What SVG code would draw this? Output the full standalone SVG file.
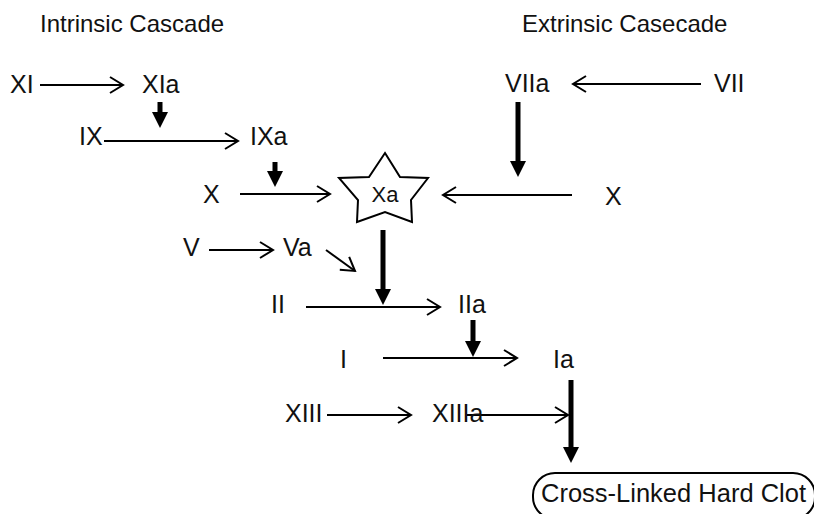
<svg xmlns="http://www.w3.org/2000/svg" width="814" height="514" viewBox="0 0 814 514">
<defs>
<style>
text { font-family: "Liberation Sans", Arial, sans-serif; font-size: 25px; fill: #111; }
.title { font-size: 24px; }
.thin { stroke: #000; stroke-width: 2; fill: none; marker-end: url(#chev); }
.thick { stroke: #000; stroke-width: 5; fill: none; marker-end: url(#tri); }
</style>
<marker id="chev" viewBox="-14 -10 16 20" refX="0" refY="0" markerWidth="16" markerHeight="20" markerUnits="userSpaceOnUse" orient="auto" overflow="visible">
<path d="M -13 -8 L 0 0 L -13 8" fill="none" stroke="#000" stroke-width="2"/>
</marker>
<marker id="tri" viewBox="0 -9 17 18" refX="2" refY="0" markerWidth="17" markerHeight="18" markerUnits="userSpaceOnUse" orient="auto" overflow="visible">
<path d="M 0 -8 L 16 0 L 0 8 z" fill="#000"/>
</marker>
</defs>
<rect width="814" height="514" fill="#fff"/>
<text class="title" x="40" y="32">Intrinsic Cascade</text>
<text class="title" x="522" y="32">Extrinsic Casecade</text>
<g id="connectors">
<line class="thin" x1="40" y1="85" x2="123" y2="85"/>
<line class="thin" x1="104" y1="141" x2="238" y2="141"/>
<line class="thin" x1="240" y1="194" x2="330" y2="194"/>
<line class="thin" x1="572" y1="195" x2="443" y2="195"/>
<line class="thin" x1="701" y1="84" x2="573" y2="84"/>
<line class="thin" x1="209" y1="250" x2="273" y2="250"/>
<line class="thin" x1="326" y1="250" x2="355" y2="271"/>
<line class="thin" x1="306" y1="307" x2="440" y2="307"/>
<line class="thin" x1="383" y1="358" x2="517" y2="358"/>
<line class="thin" x1="327" y1="415" x2="411" y2="415"/>
<line class="thin" x1="467" y1="415" x2="568" y2="415"/>
<line class="thick" x1="160" y1="102" x2="160" y2="114"/>
<line class="thick" x1="275" y1="162" x2="275" y2="173"/>
<line class="thick" x1="518" y1="102" x2="518" y2="163"/>
<line class="thick" x1="383" y1="230" x2="383" y2="291"/>
<line class="thick" x1="473" y1="320" x2="473" y2="343"/>
<line class="thick" x1="571" y1="380" x2="571" y2="449"/>
</g>
<g id="XI"><text x="10" y="93">XI</text></g>
<g id="XIa"><text x="142" y="93">XIa</text></g>
<g id="IX"><text x="79" y="145">IX</text></g>
<g id="IXa"><text x="250" y="145">IXa</text></g>
<g id="X-left"><text x="203" y="203">X</text></g>
<g id="Xa">
<polygon points="385,153 400,177 428,178 411,200 412,222 385,212 357,222 358,200 339,178 369,177" fill="#fff" stroke="#000" stroke-width="2" stroke-linejoin="miter"/>
<text x="385" y="202" text-anchor="middle" style="font-size:22px">Xa</text>
</g>
<g id="X-right"><text x="605" y="205">X</text></g>
<g id="VIIa"><text x="505" y="92">VIIa</text></g>
<g id="VII"><text x="714" y="92">VII</text></g>
<g id="V"><text x="183" y="256">V</text></g>
<g id="Va"><text x="283" y="256">Va</text></g>
<g id="II"><text x="271" y="313">II</text></g>
<g id="IIa"><text x="458" y="313">IIa</text></g>
<g id="I"><text x="340" y="368">I</text></g>
<g id="Ia"><text x="553" y="368">Ia</text></g>
<g id="XIII"><text x="285" y="422">XIII</text></g>
<g id="XIIIa"><text x="432" y="422">XIIIa</text></g>
<g id="clot">
<rect x="533" y="473" width="282" height="46" rx="22" fill="none" stroke="#000" stroke-width="2"/>
<text x="541" y="502" textLength="265" lengthAdjust="spacingAndGlyphs">Cross-Linked Hard Clot</text>
</g>
</svg>
